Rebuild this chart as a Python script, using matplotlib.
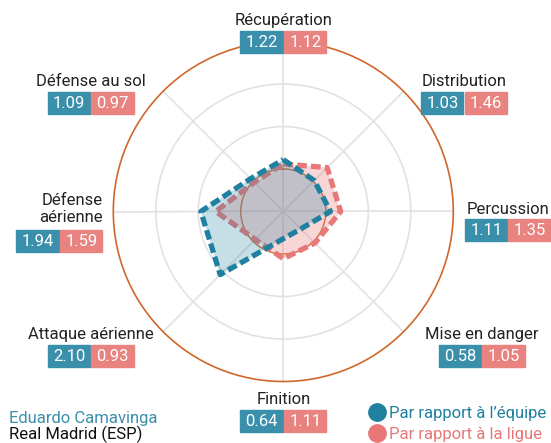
import numpy as np
import matplotlib
matplotlib.use("Agg")
import matplotlib.pyplot as plt
from matplotlib.patches import Rectangle

plt.rcParams['font.family'] = ['Roboto', 'DejaVu Sans']
plt.rcParams['lines.scale_dashes'] = False

W, H = 551, 443

categories = ["Récupération", "Distribution", "Percussion", "Mise en danger",
              "Finition", "Attaque aérienne", "Défense\naérienne", "Défense au sol"]
team_values = [1.22, 1.03, 1.11, 0.58, 0.64, 2.10, 1.94, 1.09]
league_values = [1.12, 1.46, 1.35, 1.05, 1.11, 0.93, 1.59, 0.97]
r_max = 4
player = "Eduardo Camavinga"
club = "Real Madrid (ESP)"
legend_labels = ["Par rapport à l’équipe", "Par rapport à la ligue"]

BLUE = "#1f80a0"
PINK = "#e87878"
BOX_BLUE = "#3a8fab"
BOX_PINK = "#e88380"
ORANGE = "#d0672a"
GRID = "#e2e2e2"

# label group layout: (x of the joint between the two boxes, top of boxes), pixels
label_layout = [(283.3, 31), (464, 92), (507.7, 219), (481.7, 345),
                (283.3, 410), (90.7, 345), (59.3, 230), (90.7, 92)]
BOX_W, BOX_H = 43, 21.5


def fx(x):
    return x / W


def fy(y):
    return 1 - y / H


fig = plt.figure(figsize=(W / 100, H / 100), dpi=100)
cx, cy, R = 283.3, 211.5, 170
ax = fig.add_axes([fx(cx - R), fy(cy + R), 2 * R / W, 2 * R / H], projection="polar")
ax.set_theta_offset(np.pi / 2)
ax.set_theta_direction(-1)
ax.set_ylim(0, r_max)

angles = np.linspace(0, 2 * np.pi, len(categories), endpoint=False)
ax.set_xticks(angles)
ax.set_xticklabels([])
ax.set_yticks([1, 2, 3])
ax.set_yticklabels([])
ax.grid(color=GRID, lw=1.2)
ax.spines["polar"].set_color(ORANGE)
ax.spines["polar"].set_linewidth(1.2)

t = np.linspace(0, 2 * np.pi, 200)
ax.plot(t, np.ones_like(t), color=ORANGE, lw=0.9, zorder=2)

closed = np.append(angles, angles[0])
lg = np.append(league_values, league_values[0])
tm = np.append(team_values, team_values[0])
ax.fill(closed, lg, color=PINK, alpha=0.3, lw=0, zorder=3)
ax.plot(closed, lg, color=PINK, lw=3.8, ls=(0, (7, 3)), zorder=4)
ax.fill(closed, tm, color=BLUE, alpha=0.25, lw=0, zorder=5)
ax.plot(closed, tm, color=BLUE, lw=3.8, ls=(0, (7, 3)), zorder=6)

for name, tv, lv, (jx, top) in zip(categories, team_values, league_values, label_layout):
    for x0, col, val in ((jx - BOX_W, BOX_BLUE, tv), (jx + 0.6, BOX_PINK, lv)):
        fig.patches.append(Rectangle((fx(x0), fy(top + BOX_H)), (BOX_W - 0.6) / W, BOX_H / H,
                                     transform=fig.transFigure, color=col, zorder=10))
        fig.text(fx(x0 + BOX_W / 2), fy(top + BOX_H / 2 + 0.5), f"{val:.2f}", color="white",
                 fontsize=12, ha="center", va="center", zorder=11)
    if "\n" in name:
        fig.text(fx(jx + BOX_W), fy(top - 8.5), name, fontsize=12, color="#222222",
                 ha="right", va="baseline", linespacing=1.1)
    else:
        fig.text(fx(jx), fy(top - 5.5), name, fontsize=12, color="#222222",
                 ha="center", va="baseline")

fig.text(fx(9), fy(423.3), player, fontsize=12, color=BOX_BLUE, va="baseline")
fig.text(fx(9), fy(438.8), club, fontsize=12, color="#111111", va="baseline")

for i, (lab, col) in enumerate(zip(legend_labels, [BLUE, PINK])):
    y = 412 + 21 * i
    fig.add_artist(plt.Line2D([fx(377)], [fy(y)], marker="o", ms=12.5, color=col,
                              transform=fig.transFigure))
    fig.text(fx(389), fy(y + 6), lab, fontsize=12, color=col, va="baseline")

fig.savefig("out.png", dpi=100)
